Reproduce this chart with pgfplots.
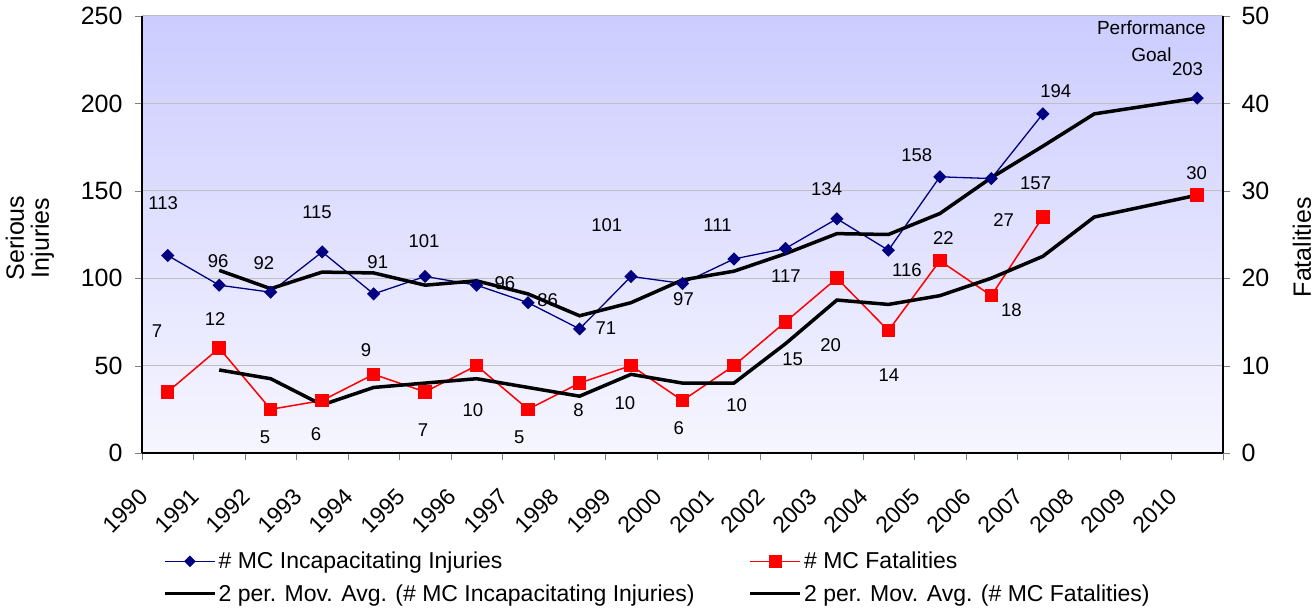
\documentclass[border=0pt]{standalone}
\usepackage{fontspec}
\setmainfont{Liberation Sans}
\usepackage{pgfplots}
\pgfplotsset{compat=1.18}
\definecolor{navy}{RGB}{0,0,128}
\definecolor{gridgray}{RGB}{190,190,190}
\definecolor{bgtop}{RGB}{204,204,255}
\definecolor{bgbot}{RGB}{246,246,255}
\newcommand{\fs}[1]{\fontsize{#1bp}{#1bp}\selectfont}
\begin{document}
\begin{tikzpicture}
\pgfplotsset{
  base/.style={
    scale only axis, width=1081bp, height=437bp,
    xmin=-0.5, xmax=20.5,
    /pgf/number format/assume math mode=true,
    tick align=outside,
    major tick length=7bp,
    minor tick length=7bp,
    ticklabel style={font=\fs{25}},
    clip=false,
    unbounded coords=jump,
  },
  injstyle/.style={navy, line width=1.3bp, mark=square*, mark size=4bp, mark options={rotate=45, fill=navy, solid}},
  fatstyle/.style={red, line width=1.5bp, mark=square*, mark size=6bp, mark options={fill=red, solid}},
  mastyle/.style={black, line width=3.5bp, no marks},
}
\begin{axis}[base, at={(0,0)}, anchor=south west,
  ymin=0, ymax=250, ytick={0,50,...,250},
  axis x line*=bottom, axis y line*=left,
  xtick={0,...,20},
  xticklabels={1990,1991,1992,1993,1994,1995,1996,1997,1998,1999,2000,2001,2002,2003,2004,2005,2006,2007,2008,2009,2010},
  major x tick style={draw=none},
  minor xtick={-0.5,0.5,...,20.5},
  xticklabel style={xshift=-30bp, yshift=-22bp, rotate=45, anchor=north east, font=\fs{23}},
  yticklabel style={xshift=-9bp},
  ymajorgrids, grid style={gridgray, line width=1bp},
  axis background/.style={top color=bgtop, bottom color=bgbot},
  axis line style={line width=1.2bp},
  ylabel={Serious\\Injuries},
  ylabel style={align=center, font=\fs{25}, at={(axis description cs:-0.1036,0.492)}, anchor=center},
]
\addplot[injstyle] coordinates {
(0,113)(1,96)(2,92)(3,115)(4,91)(5,101)(6,96)(7,86)(8,71)(9,101)(10,97)
(11,111)(12,117)(13,134)(14,116)(15,158)(16,157)(17,194)(18,nan)(19,nan)(20,203)};
\addplot[mastyle] coordinates {
(1,104.5)(2,94)(3,103.5)(4,103)(5,96)(6,98.5)(7,91)(8,78.5)(9,86)(10,99)
(11,104)(12,114)(13,125.5)(14,125)(15,137)(16,157.5)(17,175.5)(18,194)(20,203)};
% injury labels
\begin{scope}[every node/.style={font=\fs{18.5}, inner sep=0pt}]
\node at (axis cs:-0.09,143.0) {113};
\node at (axis cs:0.98,109.8) {96};
\node at (axis cs:1.87,108.7) {92};
\node at (axis cs:2.90,137.9) {115};
\node at (axis cs:4.08,109.3) {91};
\node at (axis cs:4.98,121.3) {101};
\node at (axis cs:6.55,97.3) {96};
\node at (axis cs:7.38,87.6) {86};
\node at (axis cs:8.51,71.5) {71};
\node at (axis cs:8.53,130.4) {101};
\node at (axis cs:10.02,88.1) {97};
\node at (axis cs:10.68,130.4) {111};
\node at (axis cs:12.01,101.3) {117};
\node at (axis cs:12.80,151.0) {134};
\node at (axis cs:14.36,104.7) {116};
\node at (axis cs:14.55,170.5) {158};
\node at (axis cs:16.86,154.5) {157};
\node at (axis cs:17.25,207.1) {194};
\node at (axis cs:19.81,219.7) {203};
% fatality labels
\node at (axis cs:-0.21,69.8) {7};
\node at (axis cs:0.92,76.7) {12};
\node at (axis cs:1.89,9.2) {5};
\node at (axis cs:2.88,10.9) {6};
\node at (axis cs:3.85,58.9) {9};
\node at (axis cs:4.96,13.2) {7};
\node at (axis cs:5.93,24.6) {10};
\node at (axis cs:6.83,9.2) {5};
\node at (axis cs:7.98,24.6) {8};
\node at (axis cs:8.88,28.6) {10};
\node at (axis cs:9.93,14.3) {6};
\node at (axis cs:11.05,27.5) {10};
\node at (axis cs:12.14,53.8) {15};
\node at (axis cs:12.88,61.8) {20};
\node at (axis cs:14.01,44.6) {14};
\node at (axis cs:15.07,123.0) {22};
\node at (axis cs:16.39,81.8) {18};
\node at (axis cs:16.24,133.3) {27};
\node at (axis cs:19.99,160.2) {30};
\end{scope}
\node[font=\fs{19}, inner sep=0pt] at (axis cs:19.11,243.1) {Performance};
\node[font=\fs{19}, inner sep=0pt] at (axis cs:19.11,227.7) {Goal};
\end{axis}
\begin{axis}[base, at={(0,0)}, anchor=south west,
  ymin=0, ymax=50, ytick={0,10,...,50},
  axis x line=none, axis y line*=right,
  yticklabel style={xshift=8bp},
  axis line style={line width=1.2bp},
  ylabel={Fatalities},
  ylabel style={font=\fs{25}, at={(axis description cs:1.0731,0.471)}, anchor=center, rotate=0},
  legend columns=2,
  legend cell align=left,
  legend style={at={(axis description cs:0.0194,-0.222)}, anchor=north west, draw=none, fill=none,
    font=\fs{23}, inner sep=0pt, row sep=10bp,
    /tikz/every even column/.append style={column sep=52bp}},
  legend image code/.code={\draw[mark repeat=2,mark phase=2,#1] plot coordinates {(0bp,0bp)(25bp,0bp)(50bp,0bp)};},
]
\addlegendimage{injstyle, mark size=3.5bp}
\addlegendentry{\# MC Incapacitating Injuries}
\addplot[fatstyle] coordinates {
(0,7)(1,12)(2,5)(3,6)(4,9)(5,7)(6,10)(7,5)(8,8)(9,10)(10,6)
(11,10)(12,15)(13,20)(14,14)(15,22)(16,18)(17,27)(18,nan)(19,nan)(20,29.5)};
\addlegendentry{\# MC Fatalities}
\addlegendimage{mastyle}
\addlegendentry{2 per. Mov. Avg. (\# MC Incapacitating Injuries)}
\addplot[mastyle] coordinates {
(1,9.5)(2,8.5)(3,5.5)(4,7.5)(5,8)(6,8.5)(7,7.5)(8,6.5)(9,9)(10,8)
(11,8)(12,12.5)(13,17.5)(14,17)(15,18)(16,20)(17,22.5)(18,27)(20,29.5)};
\addlegendentry{2 per. Mov. Avg. (\# MC Fatalities)}
\end{axis}
\pgfresetboundingbox
\path (-142bp,-155bp) rectangle (1174bp,453bp);
\end{tikzpicture}
\end{document}
